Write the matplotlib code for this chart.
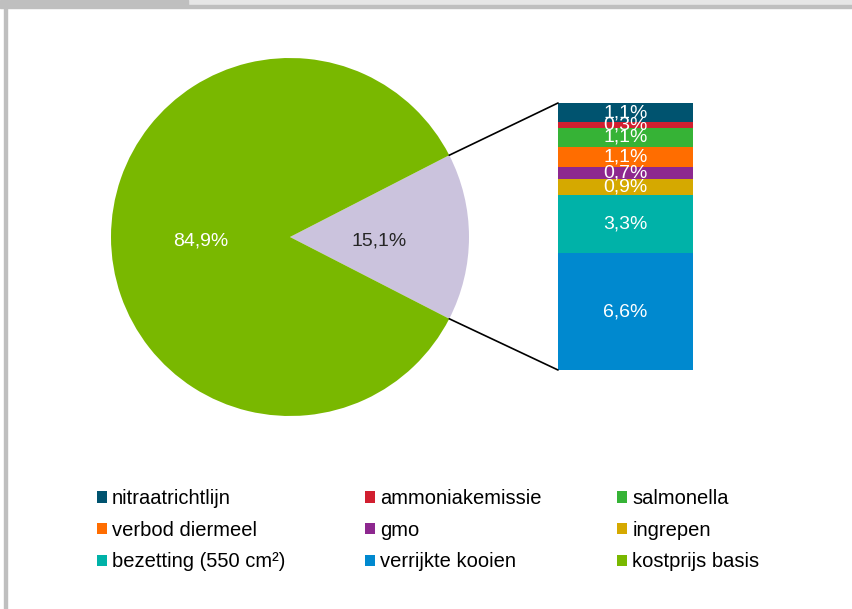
import numpy as np
import matplotlib
matplotlib.use("Agg")
import matplotlib.pyplot as plt
from matplotlib.patches import Rectangle, ConnectionPatch

plt.rcParams['font.family'] = ['Liberation Sans', 'DejaVu Sans']

# pie: basis vs. extra cost
pie_labels = ["kostprijs basis", "extra"]
pie_values = [84.9, 15.1]
pie_colors = ["#79b800", "#cbc3dd"]
pie_text = ["84,9%", "15,1%"]
pie_text_colors = ["white", "#262626"]

# breakdown of the 15,1% (top to bottom in the bar)
cats = ["nitraatrichtlijn", "ammoniakemissie", "salmonella", "verbod diermeel",
        "gmo", "ingrepen", "bezetting (550 cm²)", "verrijkte kooien"]
vals = [1.1, 0.3, 1.1, 1.1, 0.7, 0.9, 3.3, 6.6]
cat_colors = ["#00536f", "#d11f30", "#36b336", "#ff6d00",
              "#8d288f", "#d5a900", "#00b2a8", "#0089cf"]
val_text = ["1,1%", "0,3%", "1,1%", "1,1%", "0,7%", "0,9%", "3,3%", "6,6%"]

W, H = 853, 609
fig = plt.figure(figsize=(W / 100, H / 100), dpi=100)

# frame bits (grey tab at the top, border lines)
fig.patches.append(Rectangle((188 / W, 1 - 5 / H), 1, 5 / H, color="#e6e6e6", transform=fig.transFigure))
fig.patches.append(Rectangle((0, 1 - 5 / H), 188 / W, 5 / H, color="#bfbfbf", transform=fig.transFigure))
fig.patches.append(Rectangle((0, 1 - 8 / H), 1, 3 / H, color="#bfbfbf", transform=fig.transFigure))
fig.patches.append(Rectangle((4 / W, 0), 3 / W, 1, color="#bfbfbf", transform=fig.transFigure))

# pie axes, centre (290, 237) px, radius 179 px
cx, cy, r = 290, 237, 179
ax_pie = fig.add_axes([(cx - r) / W, (H - cy - r) / H, 2 * r / W, 2 * r / H])
half = pie_values[1] / sum(pie_values) * 360 / 2
wedges, _ = ax_pie.pie(pie_values[::-1], colors=pie_colors[::-1], startangle=-half,
                       counterclock=True, radius=1)
ax_pie.set_xlim(-1, 1)
ax_pie.set_ylim(-1, 1)
ax_pie.set_aspect("equal")
ax_pie.axis("off")
for w, t, c in zip(wedges, pie_text[::-1], pie_text_colors[::-1]):
    mid = np.deg2rad((w.theta1 + w.theta2) / 2)
    ax_pie.text(0.5 * np.cos(mid), 0.5 * np.sin(mid) - 0.02, t, color=c,
                ha="center", va="center", fontsize=14)

# stacked bar
bx0, by0, bx1, by1 = 558, 103, 693, 370
ax_bar = fig.add_axes([bx0 / W, (H - by1) / H, (bx1 - bx0) / W, (by1 - by0) / H])
bottom = 0
handles = {}
for cat, v, col, t in list(zip(cats, vals, cat_colors, val_text))[::-1]:
    b = ax_bar.bar(0, v, width=1, bottom=bottom, color=col, linewidth=0)
    handles[cat] = b[0]
    ax_bar.text(0, bottom + v / 2, t, color="white", ha="center", va="center", fontsize=14)
    bottom += v
ax_bar.set_xlim(-0.5, 0.5)
ax_bar.set_ylim(0, sum(vals))
ax_bar.axis("off")

# connector lines
for ang, yb in [(half, 1), (-half, 0)]:
    a = np.deg2rad(ang)
    con = ConnectionPatch(xyA=(np.cos(a), np.sin(a)), coordsA="data", axesA=ax_pie,
                          xyB=(0, yb), coordsB="axes fraction", axesB=ax_bar,
                          color="black", lw=1.2)
    fig.add_artist(con)

handles["kostprijs basis"] = wedges[1]

# legend, row-wise, three columns
rows = [["nitraatrichtlijn", "ammoniakemissie", "salmonella"],
        ["verbod diermeel", "gmo", "ingrepen"],
        ["bezetting (550 cm²)", "verrijkte kooien", "kostprijs basis"]]
col_x = [87, 355, 607]
for j, x in enumerate(col_x):
    labs = [row[j] for row in rows]
    leg = fig.legend([handles[l] for l in labs], labs, loc="upper left",
                     bbox_to_anchor=(x / W, 1 - 479 / H), frameon=False,
                     fontsize=14.5, handlelength=0.5, handleheight=0.5,
                     handletextpad=0.25, labelspacing=0.63, borderpad=0)

fig.savefig("out.png", dpi=100)
